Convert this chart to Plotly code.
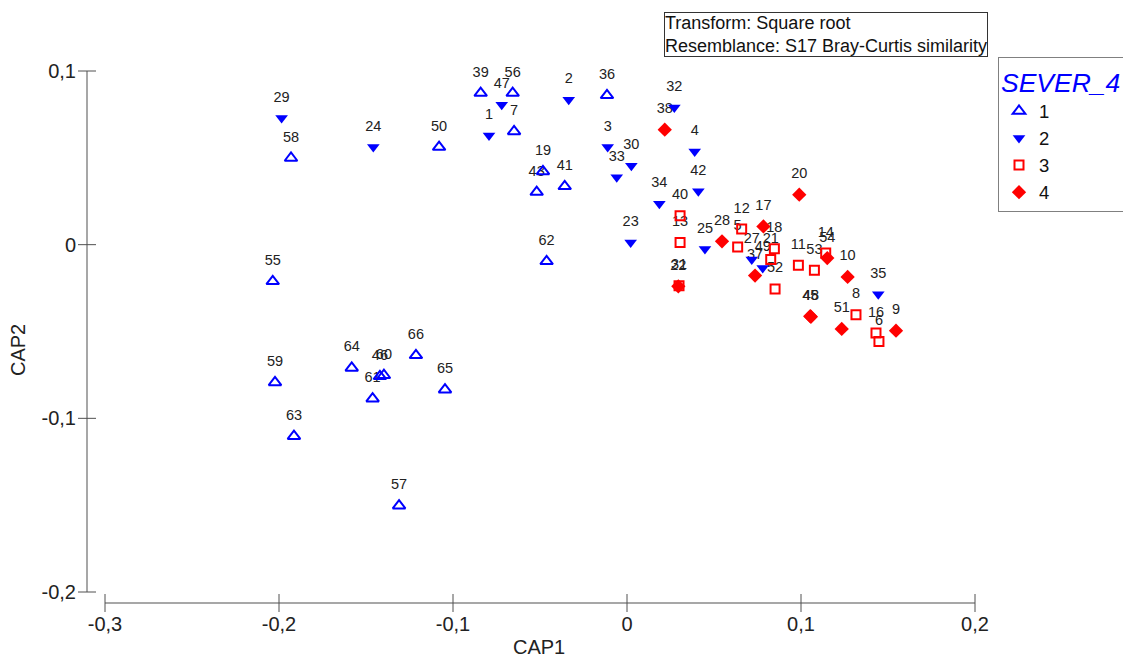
import plotly.graph_objects as go

# ---- data ----
labels1 = ["39","56","7","36","19","43","41","62","50","58","55","59","63","64","46","60","61","66","65","57"]
x1 = [-0.0841,-0.0657,-0.0649,-0.0115,-0.0483,-0.0519,-0.0358,-0.0462,-0.1080,-0.1931,-0.2036,-0.2023,-0.1914,-0.1582,-0.1420,-0.1397,-0.1462,-0.1213,-0.1046,-0.1310]
y1 = [0.0873,0.0873,0.0652,0.0860,0.0422,0.0303,0.0336,-0.0096,0.0562,0.0499,-0.0211,-0.0793,-0.1103,-0.0710,-0.0758,-0.0752,-0.0887,-0.0637,-0.0835,-0.1503]

labels2 = ["29","24","1","47","2","3","33","30","32","4","42","34","23","25","27","49","35"]
x2 = [-0.1985,-0.1458,-0.0793,-0.0720,-0.0335,-0.0111,-0.0059,0.0025,0.0272,0.0389,0.0410,0.0186,0.0021,0.0448,0.0717,0.0780,0.1444]
y2 = [0.0729,0.0562,0.0628,0.0806,0.0835,0.0562,0.0388,0.0455,0.0790,0.0537,0.0307,0.0236,0.0013,-0.0025,-0.0086,-0.0134,-0.0285]

labels3 = ["40","13","31","12","5","18","21","52","11","53","14","8","16","6"]
x3 = [0.0305,0.0305,0.0299,0.0659,0.0636,0.0847,0.0826,0.0851,0.0985,0.1077,0.1142,0.1316,0.1431,0.1448]
y3 = [0.0167,0.0013,-0.0236,0.0090,-0.0013,-0.0023,-0.0086,-0.0255,-0.0119,-0.0148,-0.0048,-0.0403,-0.0509,-0.0557]

labels4 = ["38","28","22","17","37","20","54","10","45","48","51","9"]
x4 = [0.0217,0.0546,0.0295,0.0784,0.0736,0.0990,0.1151,0.1268,0.1053,0.1057,0.1234,0.1546]
y4 = [0.0662,0.0019,-0.0240,0.0105,-0.0178,0.0288,-0.0077,-0.0186,-0.0412,-0.0415,-0.0485,-0.0495]

group_names = ["1", "2", "3", "4"]
x_ticks = [-0.3, -0.2, -0.1, 0, 0.1, 0.2]
x_ticktext = ["-0,3", "-0,2", "-0,1", "0", "0,1", "0,2"]
y_ticks = [-0.2, -0.1, 0, 0.1]
y_ticktext = ["-0,2", "-0,1", "0", "0,1"]

FONT = "Liberation Sans, Arial, sans-serif"
BLUE = "#0000FF"
RED = "#FF0000"
AXIS = "#8a8a8a"
TICK = "#505050"

styles = [
    dict(symbol="triangle-up-open", color=BLUE, size=11, line=dict(width=2, color=BLUE)),
    dict(symbol="triangle-down", color=BLUE, size=11, line=dict(width=0)),
    dict(symbol="square-open", color=RED, size=9, line=dict(width=2, color=RED)),
    dict(symbol="diamond", color=RED, size=11, line=dict(width=0)),
]

fig = go.Figure()
xs_all = [x1, x2, x3, x4]
ys_all = [y1, y2, y3, y4]
labs_all = [labels1, labels2, labels3, labels4]

# sample-number labels (drawn above each point)
for xs, ys, labs in zip(xs_all, ys_all, labs_all):
    fig.add_trace(go.Scatter(
        x=xs, y=ys, text=labs, mode="markers+text", textposition="top center",
        textfont=dict(family=FONT, size=14.5, color="#222222"),
        marker=dict(size=19, opacity=0), showlegend=False, cliponaxis=False,
        hoverinfo="skip",
    ))

# group markers
for name, xs, ys, st in zip(group_names, xs_all, ys_all, styles):
    fig.add_trace(go.Scatter(
        x=xs, y=ys, name=name, mode="markers",
        marker=st, cliponaxis=False, hoverinfo="skip",
    ))

# plot area geometry (pixels)
L, R, T, B = 87, 990, 50, 603
W, H = 1123, 659
px_per_x = 1740.0
px_per_y = 1737.0
xr = [-0.3 - (105 - L) / px_per_x, 0.2 + (R - 975) / px_per_x]
yr = [-0.2 - (B - 592) / px_per_y, 0.1 + (71 - T) / px_per_y]

shapes = []
shapes.append(dict(type="line", xref="x", yref="paper", x0=x_ticks[0], x1=x_ticks[-1], y0=0, y1=0,
                   line=dict(color=AXIS, width=1.5)))
for v in x_ticks:
    shapes.append(dict(type="line", xref="x", yref="paper", ysizemode="pixel", yanchor=0,
                       x0=v, x1=v, y0=-9, y1=9, line=dict(color=TICK, width=1)))
shapes.append(dict(type="line", xref="paper", yref="y", x0=0, x1=0, y0=y_ticks[0], y1=y_ticks[-1],
                   line=dict(color=AXIS, width=1.5)))
for v in y_ticks:
    shapes.append(dict(type="line", xref="paper", yref="y", xsizemode="pixel", xanchor=0,
                       x0=-9, x1=9, y0=v, y1=v, line=dict(color=TICK, width=1)))

pw = R - L
ph = B - T
annotations = [
    dict(text="CAP1", xref="paper", yref="paper", x=0.5, y=-(647 - B) / ph,
         xanchor="center", yanchor="middle", showarrow=False,
         font=dict(family=FONT, size=20, color="#222222")),
    dict(text="CAP2", xref="paper", yref="paper", x=(18 - L) / pw, y=1 - (350 - T) / ph,
         xanchor="center", yanchor="middle", showarrow=False, textangle=-90,
         font=dict(family=FONT, size=20, color="#222222")),
    dict(text="Transform: Square root<br>Resemblance: S17 Bray-Curtis similarity",
         xref="paper", yref="paper", x=(664 - L) / pw, y=1 + (T - 12) / ph,
         xanchor="left", yanchor="top", align="left", showarrow=False,
         bordercolor="#333333", borderwidth=1, borderpad=0, bgcolor="white",
         font=dict(family=FONT, size=18, color="#111111")),
]

fig.update_layout(
    width=W, height=H,
    margin=dict(l=L, r=W - R, t=T, b=H - B, autoexpand=False),
    paper_bgcolor="white", plot_bgcolor="white",
    font=dict(family=FONT, size=20, color="#222222"),
    showlegend=True,
    legend=dict(
        x=(998 - L) / pw, y=1 - (57 - T) / ph, xanchor="left", yanchor="top",
        bordercolor="#808080", borderwidth=1, bgcolor="white",
        font=dict(family=FONT, size=18.5, color="#111111"),
        title=dict(text="SEVER_4\u00a0\u00a0\u00a0",
                   font=dict(family=FONT, size=26.5, color=BLUE, style="italic")),
        tracegroupgap=0, itemwidth=30,
    ),
    xaxis=dict(range=xr, showgrid=False, zeroline=False, showline=False,
               tickmode="array", tickvals=x_ticks, ticktext=x_ticktext, ticks="",
               ticklabelstandoff=7, tickfont=dict(family=FONT, size=20, color="#222222")),
    yaxis=dict(range=yr, showgrid=False, zeroline=False, showline=False,
               tickmode="array", tickvals=y_ticks, ticktext=y_ticktext, ticks="",
               ticklabelstandoff=10, tickfont=dict(family=FONT, size=20, color="#222222")),
    shapes=shapes,
    annotations=annotations,
)

fig.write_html("out.html")
